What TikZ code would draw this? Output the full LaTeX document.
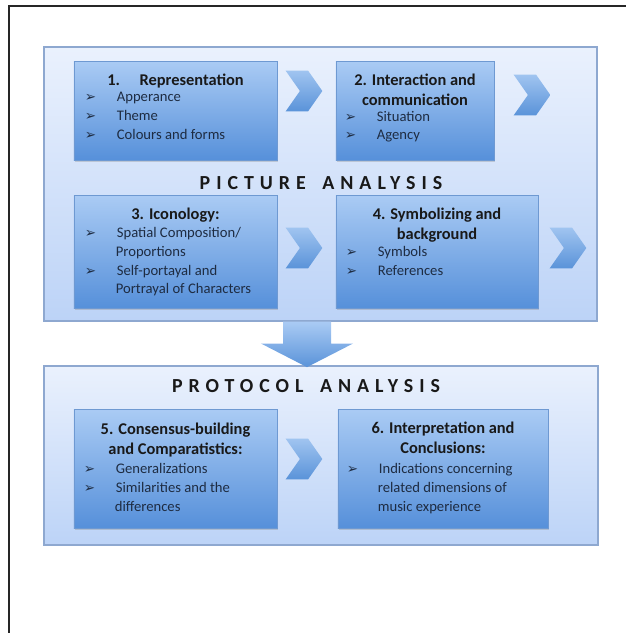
\documentclass[tikz,border=0pt]{standalone}
\usepackage{fontspec}
\setmainfont{Carlito}
\newfontfamily\symfont{DejaVu Sans}
\newfontfamily\spacedfont[LetterSpace=30]{Carlito}
\usepackage{xcolor}
\usetikzlibrary{shapes.symbols,positioning,shadows}

\definecolor{panelTop}{HTML}{EAF1FD}
\definecolor{panelBot}{HTML}{BCD3F7}
\definecolor{panelLine}{HTML}{8EA8D0}
\definecolor{boxTop}{HTML}{AACBF4}
\definecolor{boxBot}{HTML}{5690DA}
\definecolor{boxLine}{HTML}{6E99D2}
\definecolor{chevTop}{HTML}{A0C4F0}
\definecolor{chevBot}{HTML}{5A93D9}
\definecolor{txtBlue}{HTML}{1E2C42}

\newcommand{\bul}{\makebox[0.96cm][l]{\symfont\fontsize{11.5}{11.5}\selectfont ➢}}
\newcommand{\cont}{\hspace*{0.93cm}}

\begin{document}
\begin{tikzpicture}[
    x=0.03cm, y=-0.03cm,
    panel/.style={rectangle, draw=panelLine, line width=0.9pt, top color=panelTop, bottom color=panelBot, inner sep=0pt,
        drop shadow={opacity=0.15, shadow xshift=0.6pt, shadow yshift=-1pt}},
    box/.style={rectangle, draw=boxLine, line width=0.6pt, top color=boxTop, bottom color=boxBot, inner sep=0pt,
        drop shadow={opacity=0.3, shadow xshift=1pt, shadow yshift=-1.5pt}},
    chev/.style={signal, signal from=west, signal to=east, signal pointer angle=110, inner sep=0pt,
        top color=chevTop, bottom color=chevBot, minimum width=1.1cm, minimum height=1.22cm},
    ttl/.style={font=\bfseries\fontsize{14}{17.5}\selectfont, align=center, inner sep=0pt, text=black!90},
    lst/.style={font=\fontsize{12.5}{16.2}\selectfont, align=left, inner sep=0pt, text=txtBlue},
    caps/.style={font=\spacedfont\bfseries\fontsize{17}{17}\selectfont, inner sep=0pt, text=black!90}
]
\useasboundingbox (0,0) rectangle (626,633);

% Frame
\draw[line width=1.5pt, black!85] (9,633) -- (9,6) -- (626,6);

% Panels
\node[panel, minimum width=16.59cm, minimum height=8.22cm] (picpanel) at (320.5,184) {};
\node[panel, minimum width=16.62cm, minimum height=5.37cm] (protpanel) at (321,455.5) {};

% Down arrow (shaft from the picture panel, head onto the protocol panel)
\coordinate (flowtop) at (picpanel.south -| 307,0);
\coordinate (flowtip) at (protpanel.north -| 307,0);
\shade[top color=boxTop, bottom color=chevBot]
    ([xshift=-0.72cm]flowtop) -- ([xshift=0.72cm]flowtop) -- ([xshift=0.72cm,yshift=-0.66cm]flowtop)
    -- ([xshift=1.38cm,yshift=-0.66cm]flowtop) -- ([yshift=-0.05cm]flowtip)
    -- ([xshift=-1.38cm,yshift=-0.66cm]flowtop) -- ([xshift=-0.72cm,yshift=-0.66cm]flowtop) -- cycle;

% Boxes
\node[box, minimum width=6.09cm, minimum height=2.97cm] (rep) at (175.5,110.5) {};
\node[box, minimum width=4.74cm, minimum height=2.97cm] (inter) at (415,110.5) {};
\node[box, minimum width=6.09cm, minimum height=3.39cm] (icon) at (175.5,251.5) {};
\node[box, minimum width=6.06cm, minimum height=3.39cm] (symb) at (437,251.5) {};
\node[box, minimum width=6.09cm, minimum height=3.57cm] (cons) at (175.5,468.5) {};
\node[box, minimum width=6.30cm, minimum height=3.57cm] (interp) at (443,468.5) {};

% Chevrons
\node[chev] (c1) at (304,91) {};
\node[chev] (c2) at (532,95) {};
\node[chev] (c3) at (304,248) {};
\node[chev] (c4) at (568,248) {};
\node[chev] (c5) at (304,459) {};

% Headings
\node[caps] (pichead) at (321,183) {PICTURE\hspace{0.3em} ANALYSIS};
\node[caps] (prothead) at (306,386) {PROTOCOL\hspace{0.3em} ANALYSIS};

% Texts
\node[ttl, below=0.38cm of rep.north] (repT) {1.\hspace{1.2em}Representation};
\node[lst, below right=0.93cm and 0.33cm of rep.north west] (repL) {\bul Apperance\\ \bul Theme\\ \bul Colours and forms};

\node[ttl, below=0.38cm of inter.north] (interT) {2. Interaction and\\communication};
\node[lst, below right=1.5cm and 0.27cm of inter.north west] (interL) {\bul Situation\\ \bul Agency};

\node[ttl, below=0.38cm of icon.north] (iconT) {3. Iconology:};
\node[lst, below right=0.96cm and 0.33cm of icon.north west] (iconL) {\bul Spatial Composition/\\ \cont Proportions\\ \bul Self-portayal and\\ \cont Portrayal of Characters};

\node[ttl, below=0.38cm of symb.north] (symbT) {4. Symbolizing and\\background};
\node[lst, below right=1.53cm and 0.3cm of symb.north west] (symbL) {\bul Symbols\\ \bul References};

\node[ttl, below=0.42cm of cons.north] (consT) {5. Consensus-building\\and Comparatistics:};
\node[lst, below right=1.64cm and 0.3cm of cons.north west] (consL) {\bul Generalizations\\ \bul Similarities and the\\ \cont differences};

\node[ttl, below=0.38cm of interp.north] (interpT) {6. Interpretation and\\Conclusions:};
\node[lst, below right=1.64cm and 0.27cm of interp.north west] (interpL) {\bul Indications concerning\\ \cont related dimensions of\\ \cont music experience};

\end{tikzpicture}
\end{document}
